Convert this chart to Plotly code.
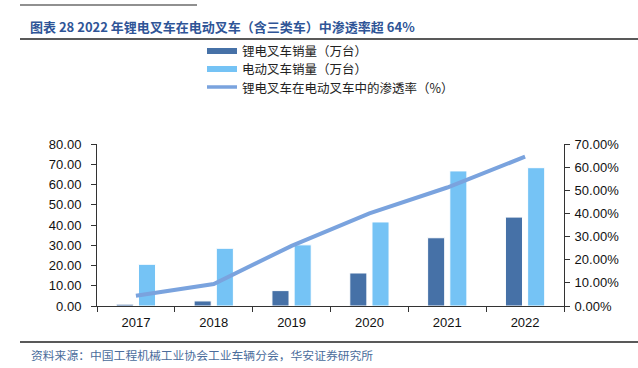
import plotly.graph_objects as go

years = ["2017", "2018", "2019", "2020", "2021", "2022"]
lithium_sales = [0.9, 2.5, 7.6, 16.3, 33.7, 43.9]
electric_sales = [20.6, 28.5, 30.2, 41.5, 66.7, 68.3]
penetration = [0.044, 0.095, 0.260, 0.400, 0.512, 0.645]

left_ticks = [0, 10, 20, 30, 40, 50, 60, 70, 80]
right_ticks = [0, 0.1, 0.2, 0.3, 0.4, 0.5, 0.6, 0.7]

names = ["锂电叉车销量（万台）", "电动叉车销量（万台）", "锂电叉车在电动叉车中的渗透率（%）"]
colors = ["#4671A7", "#75C3F5", "#7AA3DE"]

CJK = "Noto Sans CJK SC"
LAT = "Liberation Sans, Arial"

# plot area in pixels
L, R, T, B = 97, 564, 144, 306
W, H = R - L, B - T


def px(x):
    return (x - L) / W


def py(y):
    return (B - y) / H


fig = go.Figure()
fig.add_trace(go.Bar(
    x=years, y=lithium_sales, name=names[0],
    marker=dict(color=colors[0], line=dict(color="#FFFFFF", width=1)),
))
fig.add_trace(go.Bar(
    x=years, y=electric_sales, name=names[1],
    marker=dict(color=colors[1], line=dict(color="#FFFFFF", width=1)),
))
fig.add_trace(go.Scatter(
    x=years, y=penetration, name=names[2],
    mode="lines", line=dict(color=colors[2], width=4), yaxis="y2",
))

fig.update_layout(
    width=638, height=368,
    margin=dict(l=L, r=638 - R, t=T, b=368 - B),
    paper_bgcolor="white", plot_bgcolor="white",
    barmode="group", bargap=0.43, bargroupgap=0.23,
    showlegend=False,
    xaxis=dict(
        type="category", showline=True, linecolor="#333333", linewidth=1,
        ticks="outside", ticklen=5, tickcolor="#333333", tickson="boundaries",
        tickfont=dict(family=LAT, size=13, color="#111111"),
        ticklabelstandoff=4,
        showgrid=False, zeroline=False,
    ),
    yaxis=dict(
        range=[0, 80], tickvals=left_ticks, tickformat=".2f",
        showline=True, linecolor="#333333", linewidth=1,
        ticks="outside", ticklen=5, tickcolor="#333333",
        tickfont=dict(family=LAT, size=13, color="#111111"),
        ticklabelstandoff=7,
        showgrid=False, zeroline=False,
    ),
    yaxis2=dict(
        range=[0, 0.7], tickvals=right_ticks, tickformat=".2%",
        overlaying="y", side="right",
        showline=True, linecolor="#333333", linewidth=1,
        ticks="outside", ticklen=5, tickcolor="#333333",
        tickfont=dict(family=LAT, size=13, color="#111111"),
        ticklabelstandoff=2,
        showgrid=False, zeroline=False,
    ),
)

# manual legend: one text per row with a swatch beside it
leg_font = 12.5
leg_step = 18
leg_mid = 69
legend_rows = [leg_mid - leg_step, leg_mid, leg_mid + leg_step]
for i, (name, col, yy) in enumerate(zip(names, colors, legend_rows)):
    if i < 2:
        fig.add_shape(type="rect", xref="paper", yref="paper",
                      x0=px(207), x1=px(237), y0=py(yy - 3), y1=py(yy + 3),
                      fillcolor=col, line=dict(width=0))
    else:
        fig.add_shape(type="line", xref="paper", yref="paper",
                      x0=px(207), x1=px(237), y0=py(yy), y1=py(yy),
                      line=dict(color=col, width=3.5))
    fig.add_annotation(xref="paper", yref="paper", x=px(240), y=py(yy),
                       xanchor="left", yanchor="middle", showarrow=False,
                       text=name,
                       font=dict(family=CJK, size=leg_font, color="#222222"))

# title
fig.add_annotation(
    xref="paper", yref="paper", x=px(28), y=py(27),
    xanchor="left", yanchor="middle", showarrow=False,
    text="<b>图表 28 2022 年锂电叉车在电动叉车（含三类车）中渗透率超 64%</b>",
    font=dict(family=CJK, size=13, color="#2F5597"),
)
# source
fig.add_annotation(
    xref="paper", yref="paper", x=px(29), y=py(354),
    xanchor="left", yanchor="middle", showarrow=False,
    text="资料来源：中国工程机械工业协会工业车辆分会，华安证券研究所",
    font=dict(family=CJK, size=11.8, color="#4A6C9B"),
)
# rules
fig.add_shape(type="line", xref="paper", yref="paper",
              x0=px(20), x1=px(640), y0=py(39), y1=py(39),
              line=dict(color="#222222", width=1.5))
fig.add_shape(type="line", xref="paper", yref="paper",
              x0=px(20), x1=px(640), y0=py(342), y1=py(342),
              line=dict(color="#222222", width=1.5))
fig.add_shape(type="line", xref="paper", yref="paper",
              x0=px(20), x1=px(197), y0=py(5), y1=py(5),
              line=dict(color="#222222", width=1.2))

fig.write_html("out.html", config={"displayModeBar": False},
               post_script="document.body.style.margin='0';")
